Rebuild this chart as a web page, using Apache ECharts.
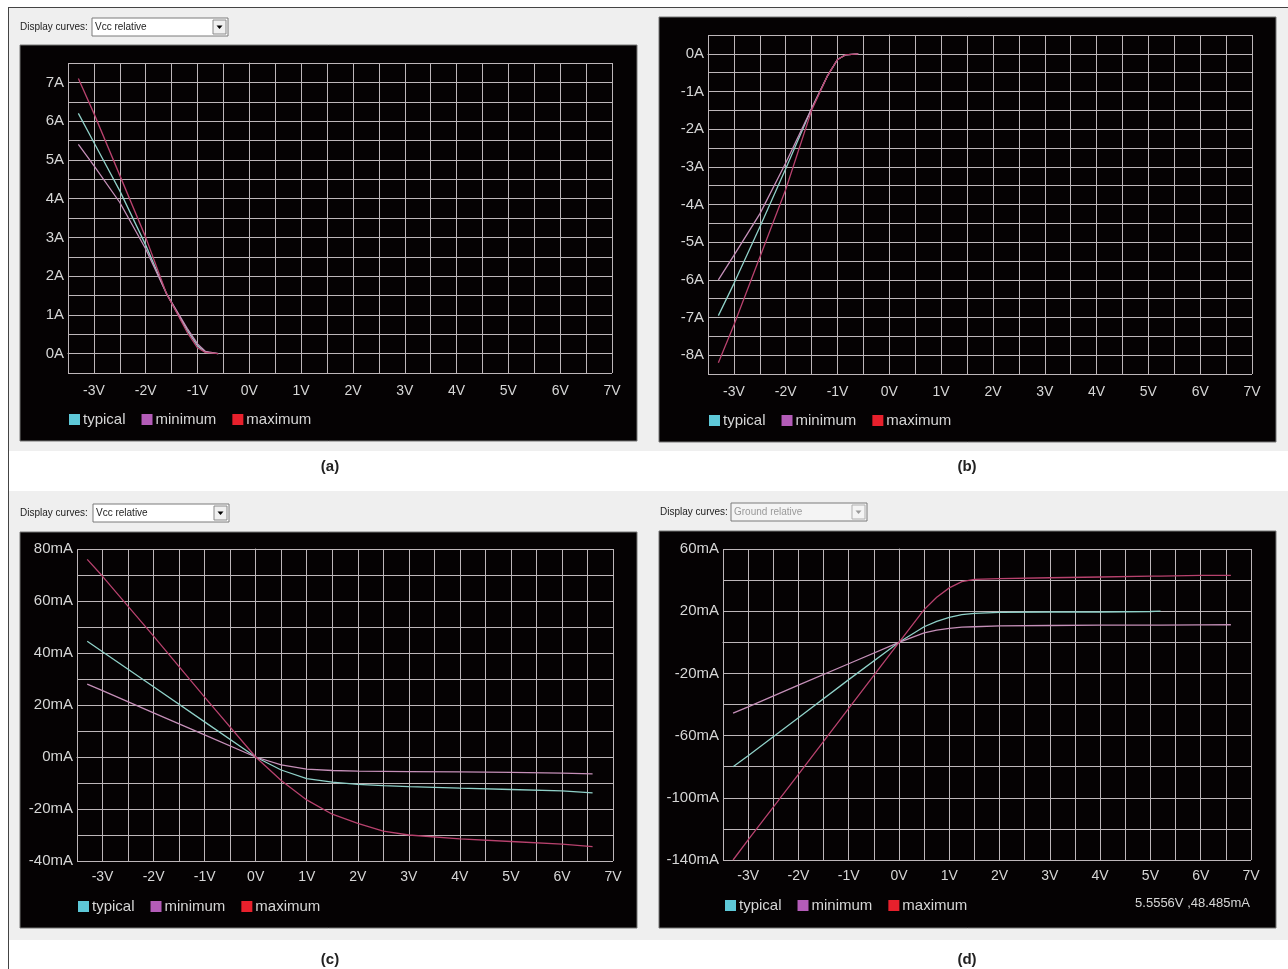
<!DOCTYPE html>
<html><head><meta charset="utf-8">
<script src="https://cdn.jsdelivr.net/npm/echarts/dist/echarts.min.js"></script>
<style>html,body{margin:0;padding:0;background:#fff}#c{width:1288px;height:969px}</style>
</head><body><div id="c"></div>
<script>
// ---------- DATA ----------
const seriesNames = ['typical', 'minimum', 'maximum'];
const xTickLabels = ['-3V','-2V','-1V','0V','1V','2V','3V','4V','5V','6V','7V'];

// (a) Vcc relative, amps
const voltsA   = [-3.3, -3.0, -2.5, -2.0, -1.6, -1.2, -1.0, -0.85, -0.6];
const typicalA = [6.2, 5.45, 4.2, 2.8, 1.55, 0.6, 0.2, 0.04, 0];
const minimumA = [5.4, 4.85, 3.9, 2.7, 1.55, 0.65, 0.25, 0.06, 0];
const maximumA = [7.1, 6.2, 4.6, 3.0, 1.55, 0.55, 0.15, 0.03, 0];

// (b) amps
const voltsB   = [-3.3, -3.0, -2.5, -2.0, -1.5, -1.2, -1.0, -0.85, -0.6];
const typicalB = [-6.95, -6.1, -4.6, -3.05, -1.45, -0.6, -0.15, -0.03, 0];
const minimumB = [-6.0, -5.35, -4.25, -2.9, -1.45, -0.6, -0.15, -0.03, 0];
const maximumB = [-8.2, -7.2, -5.4, -3.6, -1.5, -0.6, -0.15, -0.03, 0];

// (c) Vcc relative, mA
const voltsC   = [-3.3, -3, -2, -1, 0, 0.5, 1, 1.5, 2, 2.5, 3, 4, 5, 6, 6.6];
const typicalC = [44.5, 40.5, 27, 13.5, 0, -5, -8.3, -9.7, -10.5, -11, -11.4, -12, -12.5, -13, -13.8];
const minimumC = [28, 25.5, 17, 8.5, 0, -3, -4.7, -5.2, -5.4, -5.5, -5.6, -5.7, -5.9, -6.2, -6.5];
const maximumC = [76, 69.5, 46.5, 23, 0, -9, -16.5, -22, -25.5, -28.5, -30, -31.5, -32.5, -33.5, -34.5];

// (d) Ground relative, mA
const voltsD   = [-3.3, -3, -2, -1, 0, 0.5, 0.75, 1, 1.25, 1.5, 2, 3, 4, 5, 5.2, 6, 6.6];
const typicalD = [-80, -73, -48.5, -24, 0, 10, 13.5, 16, 17.8, 18.6, 19.2, 19.5, 19.5, 19.8, 20, null, null];
const minimumD = [-45.5, -41.5, -27.5, -13.8, 0, 6, 7.8, 9, 9.7, 10, 10.5, 10.8, 11, 11, 11, 11.2, 11.3];
const maximumD = [-140, -127, -85, -42.5, 0, 21, 29, 35, 39, 40.5, 41, 41.5, 42, 42.5, 42.5, 43, 43];

const readoutText = '5.5556V ,48.485mA';
const captions = ['(a)', '(b)', '(c)', '(d)'];

// ---------- STYLE / LAYOUT ----------
const FONT = '"Liberation Sans", Arial, sans-serif';
const lineColors = ['#8fd0c8', '#c58fb8', '#b8426e'];
const swatchColors = ['#5ec8d8', '#b45cb8', '#e8202c'];
const gridColor = '#bdb6b9';
const labelColor = '#d6d6d6';

function zip(xs, ys) {
  const out = [];
  xs.forEach((x, i) => { if (ys[i] !== null && ys[i] !== undefined) out.push([x, ys[i]]); });
  return out;
}

const panels = [
  { grid: {left: 68, top: 63, width: 544, height: 310}, yMin: -0.5, yMax: 7.5, yInt: 0.5,
    yFmt: v => Number.isInteger(v) ? v + 'A' : '', xMargin: 11, legend: {left: 64, top: 407},
    volts: voltsA, ys: [typicalA, minimumA, maximumA] },
  { grid: {left: 708, top: 35, width: 544, height: 339}, yMin: -8.5, yMax: 0.5, yInt: 0.5,
    yFmt: v => Number.isInteger(v) ? v + 'A' : '', xMargin: 11, legend: {left: 704, top: 408},
    volts: voltsB, ys: [typicalB, minimumB, maximumB] },
  { grid: {left: 77, top: 549, width: 536, height: 312}, yMin: -40, yMax: 80, yInt: 10,
    yFmt: v => (v % 20 === 0) ? v + 'mA' : '', xMargin: 9, legend: {left: 73, top: 894},
    volts: voltsC, ys: [typicalC, minimumC, maximumC] },
  { grid: {left: 723, top: 549, width: 528, height: 311}, yMin: -140, yMax: 60, yInt: 20,
    yFmt: v => ((v + 140) % 40 === 0) ? v + 'mA' : '', xMargin: 9, legend: {left: 720, top: 893},
    volts: voltsD, ys: [typicalD, minimumD, maximumD] }
];

const grids = [], xAxes = [], yAxes = [], series = [], legends = [];
panels.forEach((p, i) => {
  grids.push(Object.assign({containLabel: false}, p.grid));
  xAxes.push({
    type: 'value', gridIndex: i, min: -3.5, max: 7, interval: 0.5,
    axisLine: {show: true, lineStyle: {color: gridColor, width: 1}},
    axisTick: {show: false},
    splitLine: {show: true, lineStyle: {color: gridColor, width: 1}},
    axisLabel: {color: labelColor, fontSize: 14, fontFamily: FONT, margin: p.xMargin,
      showMinLabel: true, showMaxLabel: true,
      formatter: v => { const k = xTickLabels.indexOf(v + 'V'); return (Number.isInteger(v) && k >= 0) ? xTickLabels[k] : ''; }}
  });
  yAxes.push({
    type: 'value', gridIndex: i, min: p.yMin, max: p.yMax, interval: p.yInt,
    axisLine: {show: true, lineStyle: {color: gridColor, width: 1}},
    axisTick: {show: false},
    splitLine: {show: true, lineStyle: {color: gridColor, width: 1}},
    axisLabel: {color: labelColor, fontSize: 15, fontFamily: FONT, margin: 4,
      showMinLabel: true, showMaxLabel: true, formatter: p.yFmt}
  });
  p.ys.forEach((ys, k) => {
    series.push({
      type: 'line', name: seriesNames[k], xAxisIndex: i, yAxisIndex: i,
      data: zip(p.volts, ys), showSymbol: false, symbol: 'none', smooth: false,
      lineStyle: {color: lineColors[k], width: 1.3}, itemStyle: {color: lineColors[k]},
      z: 3 + (k === 2 ? 1 : 0)
    });
  });
  legends.push({
    left: p.legend.left, top: p.legend.top, orient: 'horizontal', itemGap: 16,
    itemWidth: 11, itemHeight: 11, icon: 'rect', selectedMode: false,
    textStyle: {color: labelColor, fontSize: 15, fontFamily: FONT, padding: [0, 0, 0, -2]},
    data: seriesNames.map((n, k) => ({name: n, icon: 'rect', itemStyle: {color: swatchColors[k]}}))
  });
});

function dropdown(lx, bx, y, text, disabled) {
  const els = [];
  els.push({type: 'text', x: lx, y: y + 9, z: 5,
    style: {text: 'Display curves:', fill: '#222', font: '10px ' + FONT, textVerticalAlign: 'middle'}});
  els.push({type: 'rect', shape: {x: bx, y: y, width: 136, height: 18}, z: 5,
    style: {fill: disabled ? '#f4f4f4' : '#ffffff', stroke: '#7a7a7a', lineWidth: 1}});
  els.push({type: 'text', x: bx + 3, y: y + 9, z: 6,
    style: {text: text, fill: disabled ? '#9a9a9a' : '#222', font: '10px ' + FONT, textVerticalAlign: 'middle'}});
  els.push({type: 'rect', shape: {x: bx + 121, y: y + 2, width: 13, height: 14}, z: 6,
    style: {fill: disabled ? '#f4f4f4' : '#f0f0f0', stroke: disabled ? '#b0b0b0' : '#8a8a8a', lineWidth: 1}});
  els.push({type: 'polygon', shape: {points: [[bx + 124.5, y + 7.5], [bx + 130.5, y + 7.5], [bx + 127.5, y + 11]]}, z: 7,
    style: {fill: disabled ? '#9a9a9a' : '#000'}});
  return els;
}

const graphics = [
  {type: 'rect', shape: {x: 9, y: 8, width: 1279, height: 443}, z: -20, style: {fill: '#efefef'}},
  {type: 'rect', shape: {x: 9, y: 491, width: 1279, height: 449}, z: -20, style: {fill: '#efefef'}},
  {type: 'line', shape: {x1: 8, y1: 7.5, x2: 1288, y2: 7.5}, z: 5, style: {stroke: '#444', lineWidth: 1}},
  {type: 'line', shape: {x1: 8.5, y1: 7, x2: 8.5, y2: 969}, z: 5, style: {stroke: '#444', lineWidth: 1}},
  {type: 'rect', shape: {x: 20, y: 45, width: 617, height: 396}, z: -10, style: {fill: '#050203', stroke: '#777', lineWidth: 1}},
  {type: 'rect', shape: {x: 659, y: 17, width: 617, height: 425}, z: -10, style: {fill: '#050203', stroke: '#777', lineWidth: 1}},
  {type: 'rect', shape: {x: 20, y: 532, width: 617, height: 396}, z: -10, style: {fill: '#050203', stroke: '#777', lineWidth: 1}},
  {type: 'rect', shape: {x: 659, y: 531, width: 617, height: 397}, z: -10, style: {fill: '#050203', stroke: '#777', lineWidth: 1}},
  {type: 'text', x: 1250, y: 903, z: 5,
    style: {text: readoutText, fill: labelColor, font: '13px ' + FONT, textAlign: 'right', textVerticalAlign: 'middle'}},
  {type: 'text', x: 330, y: 467, z: 5, style: {text: captions[0], fill: '#222', font: 'bold 15px ' + FONT, textAlign: 'center', textVerticalAlign: 'middle'}},
  {type: 'text', x: 967, y: 467, z: 5, style: {text: captions[1], fill: '#222', font: 'bold 15px ' + FONT, textAlign: 'center', textVerticalAlign: 'middle'}},
  {type: 'text', x: 330, y: 960, z: 5, style: {text: captions[2], fill: '#222', font: 'bold 15px ' + FONT, textAlign: 'center', textVerticalAlign: 'middle'}},
  {type: 'text', x: 967, y: 960, z: 5, style: {text: captions[3], fill: '#222', font: 'bold 15px ' + FONT, textAlign: 'center', textVerticalAlign: 'middle'}}
].concat(dropdown(20, 92, 18, 'Vcc relative', false))
 .concat(dropdown(20, 93, 504, 'Vcc relative', false))
 .concat(dropdown(660, 731, 503, 'Ground relative', true));

const chart = echarts.init(document.getElementById('c'), null, {renderer: 'canvas'});
chart.setOption({
  animation: false,
  backgroundColor: '#ffffff',
  grid: grids, xAxis: xAxes, yAxis: yAxes, series: series, legend: legends,
  graphic: {elements: graphics}
});
</script></body></html>
